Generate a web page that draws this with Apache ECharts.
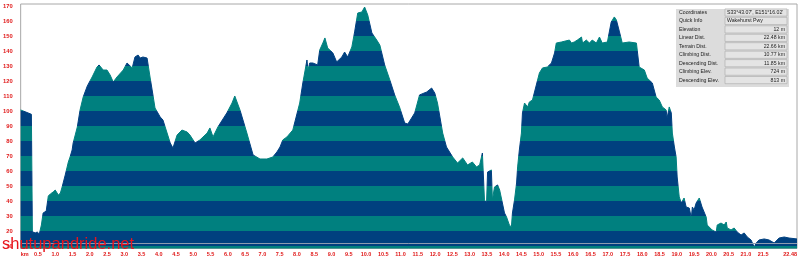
<!DOCTYPE html>
<html><head><meta charset="utf-8">
<script src="https://cdn.jsdelivr.net/npm/echarts@6/dist/echarts.min.js"></script>
<style>html,body{margin:0;padding:0;background:#fff}#c{width:800px;height:259px}</style>
</head><body><div id="c"></div>
<script>
const distKm = [
  0, 0.31, 0.34, 0.36, 0.42, 0.48, 0.54, 0.60, 0.65, 0.74, 0.80, 0.86, 0.94, 1.00, 1.09,
  1.15, 1.20, 1.29, 1.38, 1.43, 1.49, 1.52, 1.58, 1.64, 1.72, 1.81, 1.93, 2.07, 2.21, 2.27,
  2.39, 2.50, 2.59, 2.68, 2.79, 2.97, 3.08, 3.23, 3.31, 3.40, 3.46, 3.54, 3.66, 3.75, 3.83,
  3.89, 4.04, 4.12, 4.24, 4.33, 4.41, 4.53, 4.67, 4.82, 4.90, 5.05, 5.19, 5.40, 5.48, 5.57,
  5.71, 5.97, 6.12, 6.20, 6.35, 6.55, 6.73, 6.93, 7.13, 7.30, 7.42, 7.51, 7.59, 7.71, 7.88,
  8.08, 8.17, 8.29, 8.32, 8.37, 8.46, 8.60, 8.66, 8.75, 8.81, 8.89, 9.04, 9.15, 9.30, 9.38,
  9.47, 9.59, 9.67, 9.76, 9.88, 9.96, 10.05, 10.17, 10.31, 10.40, 10.54, 10.69, 10.83, 10.97, 11.12,
  11.21, 11.32, 11.41, 11.55, 11.76, 11.90, 11.99, 12.07, 12.22, 12.33, 12.51, 12.65, 12.80, 12.94, 13.08,
  13.20, 13.29, 13.37, 13.43, 13.49, 13.52, 13.63, 13.66, 13.72, 13.81, 13.87, 14.01, 14.07, 14.15, 14.21,
  14.24, 14.30, 14.36, 14.39, 14.44, 14.50, 14.53, 14.59, 14.68, 14.73, 14.82, 15.02, 15.11, 15.25, 15.37,
  15.46, 15.51, 15.66, 15.69, 15.89, 15.95, 16.03, 16.12, 16.24, 16.27, 16.38, 16.47, 16.55, 16.67, 16.76,
  16.84, 16.99, 17.10, 17.19, 17.25, 17.34, 17.42, 17.62, 17.83, 17.91, 18.06, 18.14, 18.29, 18.40, 18.49,
  18.58, 18.69, 18.72, 18.78, 18.84, 18.87, 18.93, 18.98, 19.01, 19.07, 19.13, 19.21, 19.27, 19.36, 19.42,
  19.45, 19.50, 19.56, 19.65, 19.73, 19.85, 19.88, 20.02, 20.14, 20.17, 20.28, 20.37, 20.43, 20.46, 20.57,
  20.66, 20.75, 20.86, 20.95, 21.04, 21.15, 21.24, 21.30, 21.38, 21.53, 21.67, 21.82, 21.96, 22.11, 22.25,
  22.48
];
const elevM = [
  100.7, 97.8, 17.3, 19.3, 18.7, 19.3, 18.0, 24.0, 32.0, 33.3, 43.3, 44.7, 46.0, 47.3, 44.0,
  45.3, 49.3, 57.3, 66.0, 69.3, 74.0, 78.7, 84.0, 89.3, 100.7, 109.3, 116.7, 122.7, 129.3, 130.7,
  127.3, 127.3, 124.0, 119.3, 122.7, 127.3, 132.0, 128.7, 136.0, 137.3, 135.3, 136.0, 135.3, 122.0, 110.7,
  102.0, 96.0, 94.0, 85.3, 78.7, 75.3, 84.0, 87.3, 86.0, 84.0, 78.7, 80.7, 85.3, 88.7, 82.7,
  89.3, 98.7, 105.3, 110.0, 100.7, 85.3, 70.7, 68.0, 68.0, 69.3, 72.7, 76.0, 80.7, 82.7, 87.3,
  105.3, 118.7, 134.0, 127.3, 132.0, 132.0, 130.7, 140.7, 145.3, 148.7, 142.0, 138.7, 132.7, 136.0, 139.3,
  136.0, 142.7, 152.7, 165.3, 166.0, 169.3, 164.0, 152.0, 147.3, 144.0, 130.7, 120.7, 110.7, 102.7, 92.0,
  91.3, 95.3, 98.7, 110.7, 112.7, 115.3, 112.0, 105.3, 85.3, 76.0, 69.3, 65.3, 68.7, 64.0, 66.0,
  62.7, 64.0, 72.0, 40.7, 38.7, 59.3, 60.7, 40.7, 49.3, 50.7, 47.3, 32.0, 29.3, 24.0, 22.7,
  32.0, 40.7, 52.0, 62.7, 74.0, 85.3, 98.7, 105.3, 102.7, 106.0, 107.3, 125.3, 128.7, 129.3, 132.0,
  138.7, 145.3, 146.0, 145.3, 147.3, 145.3, 146.0, 147.3, 149.3, 145.3, 147.3, 145.3, 147.3, 145.3, 149.3,
  145.3, 146.0, 159.3, 162.7, 160.7, 152.7, 145.3, 146.0, 145.3, 129.3, 127.3, 122.0, 118.7, 109.3, 107.3,
  102.7, 100.7, 95.3, 102.7, 98.7, 85.3, 76.0, 69.3, 56.0, 42.7, 38.7, 42.0, 36.0, 35.3, 28.7,
  36.0, 34.0, 38.7, 42.0, 36.0, 29.3, 24.0, 20.7, 19.3, 24.0, 25.3, 24.0, 26.0, 22.0, 20.7,
  22.0, 19.3, 17.3, 18.7, 16.0, 14.0, 9.3, 12.0, 14.0, 14.7, 14.0, 12.0, 15.3, 16.0, 15.3,
  14.7
];
const xTickKm = [0, 0.5, 1, 1.5, 2, 2.5, 3, 3.5, 4, 4.5, 5, 5.5, 6, 6.5, 7, 7.5, 8, 8.5, 9, 9.5,
  10, 10.5, 11, 11.5, 12, 12.5, 13, 13.5, 14, 14.5, 15, 15.5, 16, 16.5, 17, 17.5, 18, 18.5, 19, 19.5,
  20, 20.5, 21, 21.5, 22.48];
const yTickM = [10, 20, 30, 40, 50, 60, 70, 80, 90, 100, 110, 120, 130, 140, 150, 160, 170];
const infoLabels = ['Coordinates', 'Quick Info', 'Elevation', 'Linear Dist.', 'Terrain Dist.',
  'Climbing Dist.', 'Descending Dist.', 'Climbing Elev.', 'Descending Elev.'];
const infoValues = ["S33°43.07', E151°16.02'", 'Wakehurst Pwy', '12 m', '22.48 km', '22.66 km',
  '10.77 km', '11.85 km', '724 m', '813 m'];
const currentElevM = 12;
const totalKm = 22.48;

const TEAL = '#00807f';
const NAVY = '#00407f';
const RED = '#e01818';
const FONT = '"Liberation Sans", Arial, sans-serif';

const pieces = [];
for (let v = 0; v < 180; v += 10) {
  pieces.push({ gte: v, lt: v + 10, color: (v / 10) % 2 ? NAVY : TEAL });
}

const lineData = distKm.map((d, i) => [d, elevM[i]]);

const graphics = [];
graphics.push({ type: 'rect', z: 100, shape: { x: 676, y: 9, width: 113, height: 78 },
  style: { fill: '#dcdcdc' } });
infoLabels.forEach((lab, i) => {
  const cy = 12.5 + i * 8.45;
  graphics.push({ type: 'text', z: 101, style: { text: lab, x: 679, y: cy, fill: '#222',
    font: '5.2px ' + FONT, verticalAlign: 'middle', align: 'left' } });
  graphics.push({ type: 'rect', z: 101, shape: { x: 725, y: cy - 3.6, width: 62, height: 7.2 },
    style: { fill: '#e4e4e4', stroke: '#a8a8a8', lineWidth: 0.6 } });
  const left = i < 2;
  graphics.push({ type: 'text', z: 102, style: { text: infoValues[i], x: left ? 727 : 785, y: cy,
    fill: '#222', font: '5.2px ' + FONT, verticalAlign: 'middle', align: left ? 'left' : 'right' } });
});
graphics.push({ type: 'text', z: 110, style: { text: 'shutupandride.net', x: 2, y: 244,
  fill: '#e8141c', font: '16.5px ' + FONT, verticalAlign: 'middle', align: 'left' } });

const chart = echarts.init(document.getElementById('c'), null, { renderer: 'canvas' });
chart.setOption({
  animation: false,
  backgroundColor: '#ffffff',
  grid: { left: 20.4, right: 2, top: 4, bottom: 10.5, show: true, borderColor: '#a8a8a8',
    borderWidth: 1, backgroundColor: 'transparent' },
  xAxis: {
    type: 'value', min: 0, max: totalKm,
    axisLine: { show: false }, axisTick: { show: false }, splitLine: { show: false },
    axisLabel: {
      customValues: xTickKm, margin: 2.5, color: RED, fontSize: 5.5, fontWeight: 'bold',
      fontFamily: FONT, alignMinLabel: 'left', alignMaxLabel: 'right',
      formatter: v => v === 0 ? 'km' : (v === totalKm ? String(totalKm) : v.toFixed(1))
    }
  },
  yAxis: {
    type: 'value', min: 8.33, max: 171.33,
    axisLine: { show: false }, axisTick: { show: false }, splitLine: { show: false },
    axisLabel: { customValues: yTickM, margin: 8, color: RED, fontSize: 5.8, fontWeight: 'bold',
      fontFamily: FONT }
  },
  visualMap: { type: 'piecewise', show: false, dimension: 1, seriesIndex: 0, pieces: pieces,
    outOfRange: { color: TEAL } },
  series: [{
    type: 'line', data: lineData, symbol: 'none', smooth: false,
    lineStyle: { width: 1 }, areaStyle: { opacity: 1 },
    markLine: { silent: true, symbol: 'none', label: { show: false },
      lineStyle: { color: '#8c9bb0', width: 1, type: 'solid' },
      data: [{ yAxis: currentElevM }] }
  }],
  graphic: graphics
});
</script>
</body></html>
